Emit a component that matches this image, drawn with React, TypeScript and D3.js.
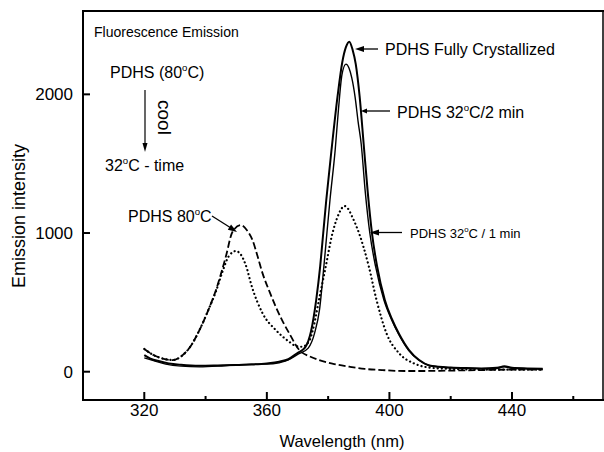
import React from "react";
import * as d3 from "d3";

const W = 604;
const H = 452;

// wavelength (nm), intensity
const crystWl = [320, 322, 325, 328, 332, 338, 344, 350, 355, 360, 364, 367, 370, 372.5, 374.4, 376.1, 377.4, 378.4, 379.4, 381.2, 383.1, 384.6, 385.8, 386.9, 388, 389, 390.3, 391.6, 392.9, 394.3, 396, 398.5, 400.8, 403.2, 406.4, 409.7, 413, 416, 420, 425, 430, 435, 437.5, 440, 445, 450];
const crystVal = [120, 95, 75, 60, 50, 43, 45, 48, 52, 60, 72, 90, 135, 175, 290, 517, 760, 1000, 1240, 1620, 1990, 2230, 2340, 2380, 2320, 2220, 1980, 1640, 1300, 1000, 757, 517, 380, 270, 156, 84, 45, 36, 30, 26, 24, 25, 40, 28, 24, 22];

const min2Wl = [320, 323, 327, 332, 338, 344, 350, 355, 360, 364, 367, 370.5, 373.5, 375.6, 377.2, 378.6, 379.6, 380.6, 382.3, 383.4, 384.5, 385.8, 386.8, 387.7, 388.8, 389.8, 390.8, 392.1, 393.6, 395.5, 398.2, 400.6, 403, 406.2, 409.5, 413, 416, 420, 430, 437.5, 440, 450];
const min2Val = [100, 80, 55, 40, 35, 40, 50, 55, 55, 65, 85, 130, 170, 280, 450, 757, 1000, 1238, 1600, 1900, 2140, 2218, 2190, 2120, 1980, 1800, 1640, 1300, 1000, 757, 517, 380, 270, 156, 84, 45, 36, 28, 22, 35, 25, 20];

const min1Wl = [320, 323, 326, 329.3, 332, 335, 338, 341, 343.4, 345.5, 347.5, 349.9, 351.5, 353.1, 355.3, 358.6, 362.9, 367.3, 369.5, 371.5, 373.8, 375, 377, 379.2, 381.4, 382.8, 384.2, 385.3, 386.5, 388, 390.1, 393.3, 395.8, 399, 403.2, 408, 413, 420, 430, 440, 450];
const min1Val = [164, 120, 95, 84, 110, 180, 300, 450, 580, 720, 830, 870, 845, 770, 600, 421, 301, 216, 185, 180, 220, 300, 517, 757, 998, 1100, 1170, 1195, 1175, 1110, 998, 757, 517, 279, 132, 60, 30, 20, 15, 15, 15];

const heatWl = [320, 323, 326, 329.3, 332, 335, 338, 341, 343.4, 346.6, 348.8, 351.5, 353.5, 355.3, 357, 358.6, 361, 362.9, 365, 367.3, 370.6, 374, 377, 382, 386.9, 392, 397.6, 405, 410, 420, 430, 440, 450];
const heatVal = [164, 120, 95, 84, 110, 180, 300, 450, 589, 829, 1009, 1058, 1020, 950, 830, 709, 570, 469, 370, 277, 156, 110, 84, 55, 36, 20, 12, 5, 5, 8, 12, 15, 15];

const xMajor = [320, 360, 400, 440];
const xMinor = [340, 380, 420, 460];
const yTicks = [0, 1000, 2000];

const left = 83, right = 603, top = 11, bottom = 400;
const x = d3.scaleLinear().domain([300, 469.7]).range([left, right]);
const y = d3.scaleLinear().domain([-204, 2601]).range([bottom, top]);

const mk = (wl: number[], v: number[]) =>
  d3.line<number>().x((_, i) => x(wl[i])).y((d) => y(d)).curve(d3.curveMonotoneX)(v) || "";

const FONT = "'Liberation Sans', Arial, Helvetica, sans-serif";

function Deg({ size }: { size: number }) {
  return (
    <>
      <tspan dy={-size * 0.45} fontSize={size * 0.6}>o</tspan>
      <tspan dy={size * 0.45}>C</tspan>
    </>
  );
}

function ArrowHead({ x0, y0, angle, len = 8, wid = 3 }: { x0: number; y0: number; angle: number; len?: number; wid?: number }) {
  const c = Math.cos(angle), s = Math.sin(angle);
  const bx = x0 - c * len, by = y0 - s * len;
  const p1 = [bx - s * wid, by + c * wid];
  const p2 = [bx + s * wid, by - c * wid];
  return <polygon points={`${x0},${y0} ${p1[0]},${p1[1]} ${p2[0]},${p2[1]}`} fill="#000" />;
}

export default function App() {
  return (
    <svg width={W} height={H} style={{ display: "block", position: "absolute", left: 0, top: 0, background: "#fff" }} fontFamily={FONT}>
      <rect x={0} y={0} width={W} height={H} fill="#fff" />
      {/* frame */}
      <line x1={left} y1={top} x2={W} y2={top} stroke="#000" strokeWidth={2} />
      <line x1={right} y1={top} x2={right} y2={bottom} stroke="#000" strokeWidth={1.5} />
      <line x1={left} y1={top - 1} x2={left} y2={bottom + 1} stroke="#000" strokeWidth={2} />
      <line x1={left - 1} y1={bottom} x2={W} y2={bottom} stroke="#000" strokeWidth={2} />
      {/* x ticks */}
      {xMajor.map((t) => (
        <g key={"xm" + t}>
          <line x1={x(t)} x2={x(t)} y1={bottom} y2={bottom - 8} stroke="#000" strokeWidth={2} />
          <text x={x(t)} y={416} fontSize={17} textAnchor="middle">{t}</text>
        </g>
      ))}
      {xMinor.map((t) => (
        <line key={"xn" + t} x1={x(t)} x2={x(t)} y1={bottom} y2={bottom - 4} stroke="#000" strokeWidth={2} />
      ))}
      {yTicks.map((t) => (
        <g key={"y" + t}>
          <line x1={left} x2={left + 7} y1={y(t)} y2={y(t)} stroke="#000" strokeWidth={2} />
          <text x={73} y={y(t) + 6} fontSize={17} textAnchor="end">{t}</text>
        </g>
      ))}
      <text x={342} y={447} fontSize={16.5} textAnchor="middle">Wavelength (nm)</text>
      <text transform={`translate(25,216) rotate(-90)`} fontSize={18} textAnchor="middle">Emission intensity</text>

      {/* curves */}
      <path d={mk(heatWl, heatVal)} fill="none" stroke="#000" strokeWidth={1.8} strokeDasharray="7,3" />
      <path d={mk(min1Wl, min1Val)} fill="none" stroke="#000" strokeWidth={2.2} strokeDasharray="0.1,4" strokeLinecap="round" />
      <path d={mk(min2Wl, min2Val)} fill="none" stroke="#000" strokeWidth={1.4} />
      <path d={mk(crystWl, crystVal)} fill="none" stroke="#000" strokeWidth={2} />

      {/* annotations */}
      <text x={94} y={37} fontSize={14}>Fluorescence Emission</text>
      <text x={110} y={78} fontSize={16}>PDHS (80<Deg size={16} />)</text>
      <line x1={145} y1={90} x2={145} y2={144} stroke="#000" strokeWidth={1.2} />
      <ArrowHead x0={145} y0={152} angle={Math.PI / 2} len={9} wid={2.5} />
      <text transform="translate(158,100) rotate(90)" fontSize={19}>cool</text>
      <text x={105} y={171} fontSize={16}>32<Deg size={16} /> - time</text>

      <text x={128} y={222} fontSize={16}>PDHS 80<Deg size={16} /></text>
      <line x1={212} y1={216} x2={231} y2={228} stroke="#000" strokeWidth={1.3} />
      <ArrowHead x0={237} y0={232} angle={Math.atan2(16, 25)} len={9} wid={3} />

      <text x={385} y={55} fontSize={16}>PDHS Fully Crystallized</text>
      <line x1={378} y1={49} x2={362} y2={49} stroke="#000" strokeWidth={1.3} />
      <ArrowHead x0={355} y0={49} angle={Math.PI} len={9} wid={3} />

      <text x={397} y={118} fontSize={16}>PDHS 32<Deg size={16} />/2 min</text>
      <line x1={390} y1={111} x2={366} y2={111} stroke="#000" strokeWidth={1.3} />
      <ArrowHead x0={361} y0={111} angle={Math.PI} len={6} wid={2.5} />

      <text x={410} y={238} fontSize={13}>PDHS 32<Deg size={13} /> / 1 min</text>
      <line x1={402} y1={232.5} x2={377} y2={232.5} stroke="#000" strokeWidth={1.3} />
      <ArrowHead x0={370} y0={232.5} angle={Math.PI} len={9} wid={3} />
    </svg>
  );
}
